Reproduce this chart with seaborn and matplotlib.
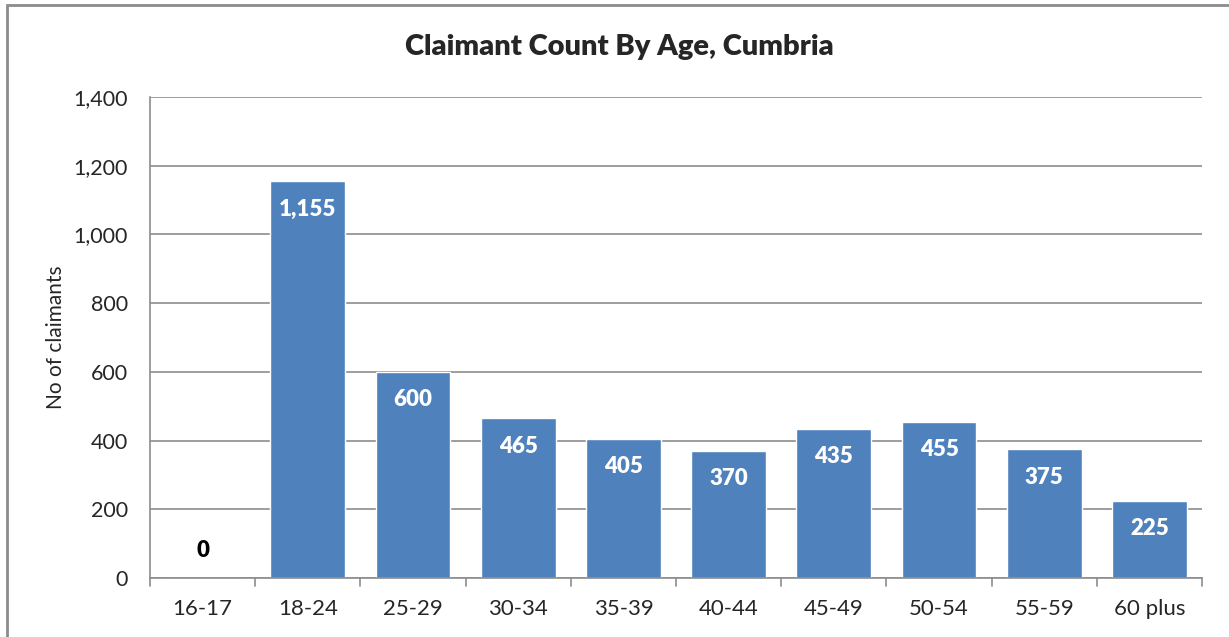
import matplotlib
matplotlib.use("Agg")
import matplotlib.pyplot as plt
import seaborn as sns
import pandas as pd
from matplotlib.patches import Rectangle

categories = ["16-17", "18-24", "25-29", "30-34", "35-39", "40-44", "45-49", "50-54", "55-59", "60 plus"]
claimants = [0, 1155, 600, 465, 405, 370, 435, 455, 375, 225]
yticks = [0, 200, 400, 600, 800, 1000, 1200, 1400]

sns.set_theme(style="white")
plt.rcParams['font.family'] = ['Lato', 'DejaVu Sans']

df = pd.DataFrame({"age": categories, "count": claimants})

fig = plt.figure(figsize=(12.29, 6.37), dpi=100)
ax = fig.add_axes([150/1229, 59/637, 1052/1229, 481/637])

sns.barplot(data=df, x="age", y="count", color="#4F81BD", saturation=1, width=0.71, ax=ax)

ax.set_ylim(0, 1400)
ax.set_xlim(-0.5, len(categories) - 0.5)
ax.set_yticks(yticks)
ax.set_yticklabels([f"{v:,}" for v in yticks], fontsize=15.5)
ax.tick_params(axis='x', labelsize=16, length=0, pad=15)
ax.tick_params(axis='y', length=6, width=1.2, color="#8c8c8c", direction='out', pad=10)
ax.yaxis.grid(True, color="#8c8c8c", linewidth=1.2)
ax.set_axisbelow(True)
for s in ["top", "right"]:
    ax.spines[s].set_visible(False)
for s in ["left", "bottom"]:
    ax.spines[s].set_color("#8c8c8c")
    ax.spines[s].set_linewidth(1.2)

# x ticks between categories
for i in range(len(categories) + 1):
    ax.plot([i - 0.5, i - 0.5], [0, -0.017], transform=ax.get_xaxis_transform(),
            color="#8c8c8c", linewidth=1.2, clip_on=False)

ax.set_xlabel("")
ax.set_ylabel("No of claimants", fontsize=15)
ax.yaxis.set_label_coords((66 - 150) / 1052, 0.5)

for i, v in enumerate(claimants):
    if v == 0:
        ax.text(i, 80, f"{v:,}", ha="center", va="center", fontsize=16, fontweight="heavy", color="black")
    else:
        ax.annotate(f"{v:,}", (i, v), xytext=(0, -28), textcoords="offset pixels",
                    ha="center", va="center", fontsize=16, fontweight="heavy", color="white")

fig.text(619/1229, 1 - 47/637, "Claimant Count By Age, Cumbria", ha="center", va="center",
         fontsize=21, fontweight="heavy")

fig.patches.append(Rectangle((7/1229, -0.1), 1.2, 1 - 5/637 + 0.1, transform=fig.transFigure,
                             fill=False, edgecolor="#8c8c8c", linewidth=2))

fig.savefig("out.png", dpi=100)
